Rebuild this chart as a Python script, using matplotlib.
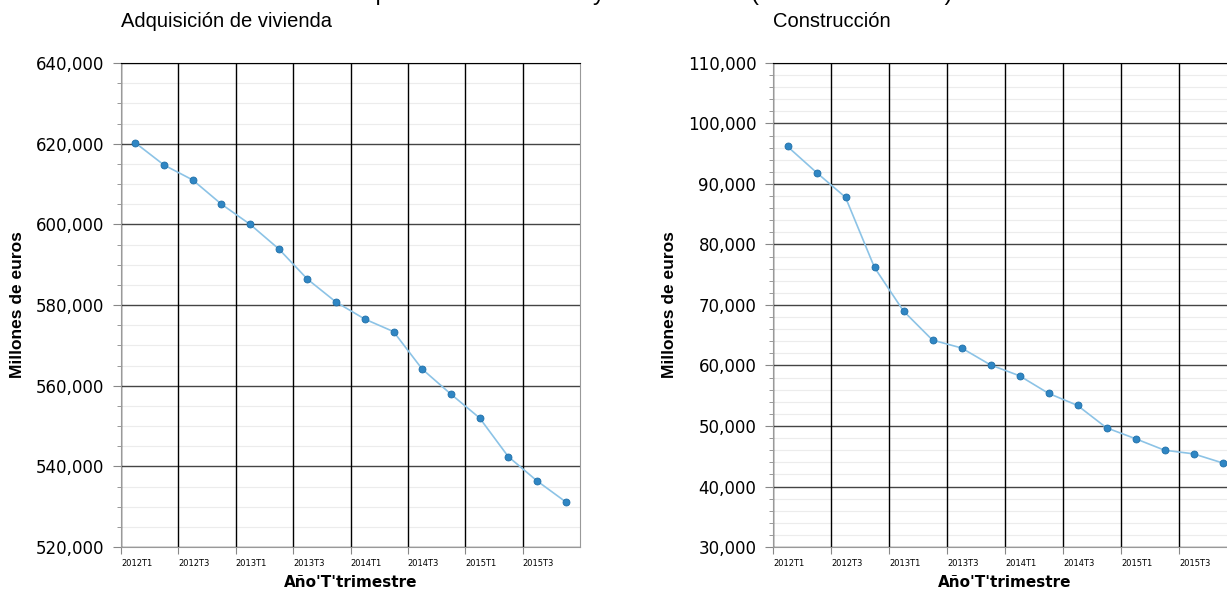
import matplotlib.pyplot as plt
from matplotlib.ticker import FuncFormatter, MultipleLocator

# quarters 2012T1 .. 2015T4
quarters = [f'{y}T{q}' for y in range(2012, 2016) for q in range(1, 5)]

adquisicion = [620.2, 614.7, 611.0, 605.0, 600.0, 593.9, 586.4, 580.7,
               576.5, 573.4, 564.1, 557.9, 552.0, 542.4, 536.4, 531.2]
construccion = [96.2, 91.9, 87.8, 76.2, 69.0, 64.2, 62.9, 60.1,
                58.3, 55.4, 53.4, 49.7, 47.9, 46.0, 45.4, 43.9]

titles = ['Adquisición de vivienda', 'Construcción']
ylims = [(520000, 640000), (30000, 110000)]
ysteps = [(20000, 5000), (10000, 2000)]

LINE = '#8cc3e6'
MARK = '#2f86c4'
NARROW = ['Liberation Sans Narrow', 'Liberation Sans', 'DejaVu Sans']

fig = plt.figure(figsize=(12.27, 5.9), dpi=100)
ax1 = fig.add_axes([121 / 1227, 43 / 590, 459 / 1227, 484 / 590])
ax2 = fig.add_axes([773 / 1227, 43 / 590, 464 / 1227, 484 / 590])

fig.text(0.5, 1.0, 'Crédito hipotecario a vivienda y construcción (millones de euros)',
         ha='center', va='baseline', fontsize=17, family=NARROW)

for ax, vals, title, ylim, (maj, mnr) in zip(
        [ax1, ax2], [adquisicion, construccion], titles, ylims, ysteps):
    x = [i + 0.5 for i in range(len(vals))]
    y = [v * 1000 for v in vals]
    ax.plot(x, y, color=LINE, lw=1.2, zorder=3)
    ax.plot(x, y, 'o', ms=5, mfc=MARK, mec='#1f6fa8', mew=0.6, zorder=4)

    ax.set_xlim(0, 16)
    ax.set_ylim(*ylim)
    ax.yaxis.set_major_locator(MultipleLocator(maj))
    ax.yaxis.set_minor_locator(MultipleLocator(mnr))
    ax.yaxis.set_major_formatter(FuncFormatter(lambda v, p: f'{v:,.0f}'))
    ax.set_xticks(range(0, 16, 2))
    ax.set_xticklabels(quarters[::2], ha='left', fontsize=6)

    ax.grid(which='major', axis='y', color='#444444', lw=1)
    ax.grid(which='minor', axis='y', color='#ececec', lw=0.8)
    ax.grid(which='major', axis='x', color='black', lw=1)
    ax.set_axisbelow(True)
    # vertical lines above the light minor rows
    ax.xaxis.set_zorder(0.6)

    ax.tick_params(axis='y', which='major', labelsize=12, length=6,
                   color='#888888', pad=6)
    ax.tick_params(axis='y', which='minor', length=3, color='#888888')
    ax.tick_params(axis='x', which='major', length=5, color='#888888', pad=4)

    for s in ['left', 'bottom', 'right']:
        ax.spines[s].set_color('#999999')
    ax.spines['top'].set_color('black')

    ax.set_xlabel("Año'T'trimestre", fontsize=11, fontweight='bold', labelpad=5)
    ax.set_ylabel('Millones de euros', fontsize=12.5, fontweight='bold',
                  family=NARROW, labelpad=8)
    ax.text(0, 1.085, title, transform=ax.transAxes, fontsize=14.5,
            family=NARROW, ha='left', va='center')

fig.savefig('out.png', dpi=100)
